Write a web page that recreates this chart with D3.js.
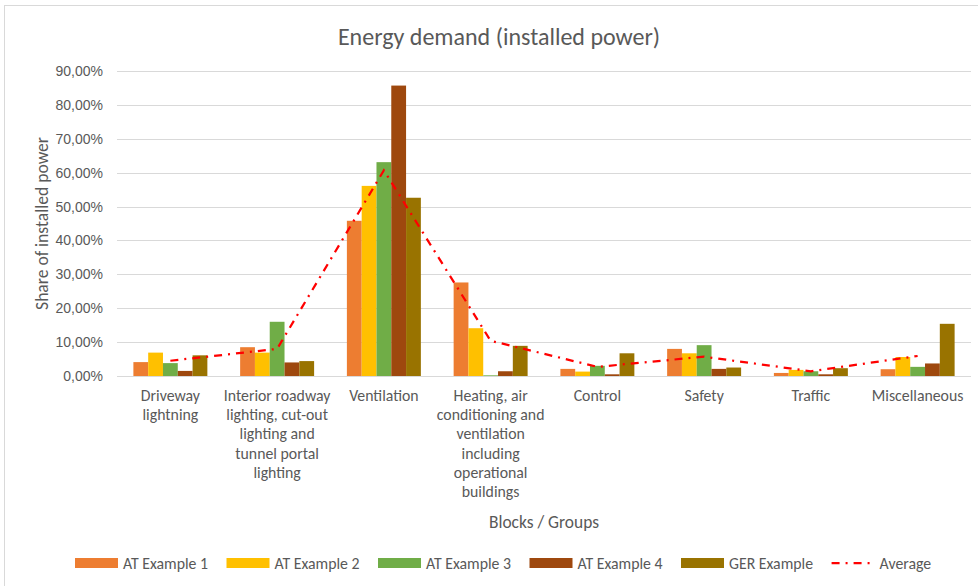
<!DOCTYPE html>
<html>
<head>
<meta charset="utf-8">
<script src="https://cdn.jsdelivr.net/npm/d3@7"></script>
<style>
  html, body { margin: 0; padding: 0; background: #fff; }
  svg { display: block; font-family: Carlito, "Liberation Sans Narrow", "Open Sans", sans-serif; }
</style>
</head>
<body>
<svg id="chart" width="978" height="586"></svg>
<script>
// Category labels, one array of lines per group
const categories = [
  ["Driveway", "lightning"],
  ["Interior roadway", "lighting, cut-out", "lighting and", "tunnel portal", "lighting"],
  ["Ventilation"],
  ["Heating, air", "conditioning and", "ventilation", "including", "operational", "buildings"],
  ["Control"],
  ["Safety"],
  ["Traffic"],
  ["Miscellaneous"]
];
const seriesNames = ["AT Example 1", "AT Example 2", "AT Example 3", "AT Example 4", "GER Example"];
const seriesColors = ["#ED7D31", "#FFC000", "#70AD47", "#9E480E", "#997300"];

// Shares of installed power in percent
const atExample1 = [4.1, 8.5, 45.8, 27.6, 2.1, 8.0, 0.9, 2.0];
const atExample2 = [6.9, 6.9, 56.1, 14.1, 1.3, 6.7, 1.8, 5.6];
const atExample3 = [3.8, 16.0, 63.1, 0.2, 3.0, 9.1, 1.4, 2.7];
const atExample4 = [1.5, 4.0, 85.7, 1.4, 0.5, 2.1, 0.5, 3.7];
const gerExample = [6.1, 4.4, 52.6, 8.9, 6.7, 2.5, 2.3, 15.4];
const average    = [4.5, 8.0, 60.7, 10.4, 2.7, 5.7, 1.4, 5.9];

const yTicks = [0, 10, 20, 30, 40, 50, 60, 70, 80, 90];

const series = [atExample1, atExample2, atExample3, atExample4, gerExample];

const svg = d3.select("#chart");
const plot = { left: 117, right: 971, top: 71, bottom: 376 };
const textColor = "#595959";

// Outer chart frame
svg.append("rect")
  .attr("x", 4.5).attr("y", 5.5)
  .attr("width", 1000).attr("height", 600)
  .attr("fill", "#fff")
  .attr("stroke", "#d9d9d9").attr("stroke-width", 1);

const x = d3.scaleBand()
  .domain(d3.range(categories.length))
  .range([plot.left, plot.right])
  .paddingInner(0.307)
  .paddingOuter(0.1535);

const xs = d3.scaleBand()
  .domain(d3.range(seriesNames.length))
  .range([0, x.bandwidth()])
  .padding(0);

const y = d3.scaleLinear().domain([0, 90]).range([plot.bottom, plot.top]);

const fmt = v => d3.format(".2f")(v).replace(".", ",") + "%";

// Gridlines
svg.append("g")
  .selectAll("line")
  .data(yTicks)
  .join("line")
  .attr("x1", plot.left).attr("x2", plot.right)
  .attr("y1", d => Math.round(y(d)) + 0.5)
  .attr("y2", d => Math.round(y(d)) + 0.5)
  .attr("stroke", "#d9d9d9")
  .attr("stroke-width", 1);

// Y axis labels
const yAxis = d3.axisLeft(y).tickValues(yTicks).tickFormat(fmt).tickSize(0).tickPadding(0);
const yg = svg.append("g").attr("transform", `translate(${plot.left - 14},0)`).call(yAxis);
yg.select(".domain").remove();
yg.selectAll("text")
  .attr("fill", textColor)
  .attr("font-size", 14)
  .attr("font-family", null);

// Bars
const groups = svg.append("g")
  .selectAll("g")
  .data(series)
  .join("g")
  .attr("fill", (d, i) => seriesColors[i]);

groups.selectAll("rect")
  .data((d, si) => d.map((v, ci) => ({ v, ci, si })))
  .join("rect")
  .attr("x", d => x(d.ci) + xs(d.si))
  .attr("width", xs.bandwidth())
  .attr("y", d => y(d.v))
  .attr("height", d => y(0) - y(d.v));

// Axis baseline
svg.append("line")
  .attr("x1", plot.left).attr("x2", plot.right)
  .attr("y1", Math.round(y(0)) + 0.5).attr("y2", Math.round(y(0)) + 0.5)
  .attr("stroke", "#d9d9d9").attr("stroke-width", 1);

// Average line
const line = d3.line()
  .x((d, i) => x(i) + x.bandwidth() / 2)
  .y(d => y(d));

svg.append("path")
  .datum(average)
  .attr("d", line)
  .attr("fill", "none")
  .attr("stroke", "#FF0000")
  .attr("stroke-width", 2.25)
  .attr("stroke-dasharray", "8,6,2,6");

// Category labels
const catG = svg.append("g");
categories.forEach((lines, i) => {
  const t = catG.append("text")
    .attr("x", x(i) + x.bandwidth() / 2)
    .attr("y", 401)
    .attr("text-anchor", "middle")
    .attr("font-size", 15.8)
    .attr("fill", textColor);
  lines.forEach((ln, k) => {
    t.append("tspan")
      .attr("x", x(i) + x.bandwidth() / 2)
      .attr("dy", k === 0 ? 0 : 19.2)
      .text(ln);
  });
});

// Title
svg.append("text")
  .attr("x", 499).attr("y", 45)
  .attr("text-anchor", "middle")
  .attr("font-size", 24)
  .attr("fill", textColor)
  .text("Energy demand (installed power)");

// Axis titles
svg.append("text")
  .attr("transform", `translate(48,${(plot.top + plot.bottom) / 2}) rotate(-90)`)
  .attr("text-anchor", "middle")
  .attr("font-size", 17.6)
  .attr("fill", textColor)
  .text("Share of installed power");

svg.append("text")
  .attr("x", (plot.left + plot.right) / 2).attr("y", 528)
  .attr("text-anchor", "middle")
  .attr("font-size", 17.4)
  .attr("fill", textColor)
  .text("Blocks / Groups");

// Legend
const legend = svg.append("g").attr("font-size", 15.8).attr("fill", textColor);
const legendItems = seriesNames.map((n, i) => ({ name: n, color: seriesColors[i], type: "bar" }))
  .concat([{ name: "Average", color: "#FF0000", type: "line" }]);
let lx = 75;
const ly = 563;
const swW = 43;
legendItems.forEach(item => {
  const g = legend.append("g");
  if (item.type === "bar") {
    g.append("rect").attr("x", lx).attr("y", ly - 5).attr("width", swW).attr("height", 10).attr("fill", item.color);
  } else {
    g.append("line").attr("x1", lx).attr("x2", lx + swW).attr("y1", ly).attr("y2", ly)
      .attr("stroke", item.color).attr("stroke-width", 2.25).attr("stroke-dasharray", "8,6,2,6");
  }
  const t = g.append("text").attr("x", lx + swW + 5).attr("y", ly + 5.5).text(item.name);
  const w = t.node().getComputedTextLength();
  lx += swW + 5 + w + 18.5;
});
</script>
</body>
</html>
